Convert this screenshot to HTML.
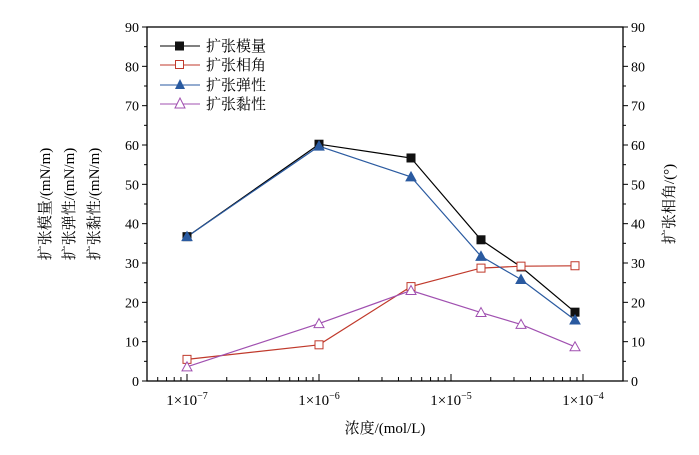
<!DOCTYPE html><html><head><style>body{margin:0;background:#fff}svg{font-family:"Liberation Serif","Noto Serif CJK SC",serif}</style></head><body>
<svg width="699" height="450" viewBox="0 0 699 450" xmlns="http://www.w3.org/2000/svg">
<g stroke="#000" stroke-width="1.3" fill="none">
<rect x="147" y="27" width="476" height="354"/>
</g>
<g id="t" stroke="#000" stroke-width="1"></g>
<g font-size="14" fill="#000" id="lab"></g>
<g fill="#000" font-size="15">
<text x="187" y="405" text-anchor="middle">1×10<tspan dy="-6" font-size="10">−7</tspan></text>
<text x="319" y="405" text-anchor="middle">1×10<tspan dy="-6" font-size="10">−6</tspan></text>
<text x="451" y="405" text-anchor="middle">1×10<tspan dy="-6" font-size="10">−5</tspan></text>
<text x="583" y="405" text-anchor="middle">1×10<tspan dy="-6" font-size="10">−4</tspan></text>
<text x="385" y="433" text-anchor="middle">浓度/(mol/L)</text>
<text transform="translate(50,204) rotate(-90)" text-anchor="middle">扩张模量/(mN/m)</text>
<text transform="translate(74,204) rotate(-90)" text-anchor="middle">扩张弹性/(mN/m)</text>
<text transform="translate(99,204) rotate(-90)" text-anchor="middle">扩张黏性/(mN/m)</text>
<text transform="translate(674,204) rotate(-90)" text-anchor="middle">扩张相角/(°)</text>
</g>
<g stroke-width="1.2" fill="none">
<polyline stroke="#000" points="187,236.7 319,144.2 411,158 481,239.8 521,266.9 575,312.2"/>
<polyline stroke="#c0392b" points="187,359.4 319,344.8 411,286.6 481,268.1 521,266.2 575,265.8"/>
<polyline stroke="#2a5aa0" points="187,236.7 319,146.2 411,176.9 481,256.3 521,279.5 575,320"/>
<polyline stroke="#a050b0" points="187,366.8 319,323.6 411,290.5 481,312.6 521,324.4 575,346.8"/>
</g>
<g id="m"></g>
<g font-size="15" fill="#000">
<line x1="160" y1="46" x2="200" y2="46" stroke="#000"/><rect x="175" y="41.5" width="9" height="9" fill="#111"/><text x="206" y="51">扩张模量</text>
<line x1="160" y1="65" x2="200" y2="65" stroke="#c0392b"/><rect x="175.5" y="60.5" width="8" height="8" fill="#fff" stroke="#c0392b"/><text x="206" y="70">扩张相角</text>
<line x1="160" y1="85" x2="200" y2="85" stroke="#2a5aa0"/><polygon points="180,79 185,89 175,89" fill="#2a5aa0"/><text x="206" y="90">扩张弹性</text>
<line x1="160" y1="104" x2="200" y2="104" stroke="#a050b0"/><polygon points="180,98 185,108 175,108" fill="#fff" stroke="#a050b0"/><text x="206" y="109">扩张黏性</text>
</g>
<script>
var ns="http://www.w3.org/2000/svg",t=document.getElementById('t'),lab=document.getElementById('lab'),m=document.getElementById('m');
function L(a,b,c,d){var e=document.createElementNS(ns,'line');e.setAttribute('x1',a);e.setAttribute('y1',b);e.setAttribute('x2',c);e.setAttribute('y2',d);t.appendChild(e);}
function T(x,y,s,a){var e=document.createElementNS(ns,'text');e.setAttribute('x',x);e.setAttribute('y',y);e.setAttribute('text-anchor',a);e.textContent=s;lab.appendChild(e);}
for(var v=0;v<=90;v+=10){var y=381-v*354/90;L(147,y,142,y);L(623,y,628,y);T(139,y+5,v,'end');T(631,y+5,v,'start');}
for(var v=5;v<90;v+=10){var y=381-v*354/90;L(147,y,144,y);L(623,y,626,y);}
for(var d=-8;d<=-4;d++){for(var k=1;k<10;k++){var x=187+132*(d+7+Math.log10(k));if(x<148||x>622)continue;L(x,381,x,k==1?374:377);}}
var X=[187,319,411,481,521,575];
function mk(vals,type,col,fill){vals.forEach(function(v,i){var x=X[i],y=381-v*354/90,e;
if(type=='s'){e=document.createElementNS(ns,'rect');e.setAttribute('x',x-4);e.setAttribute('y',y-4);e.setAttribute('width',8);e.setAttribute('height',8);}
else{e=document.createElementNS(ns,'polygon');e.setAttribute('points',x+','+(y-5)+' '+(x+5)+','+(y+4)+' '+(x-5)+','+(y+4));}
e.setAttribute('fill',fill);e.setAttribute('stroke',col);m.appendChild(e);});}
mk([36.7,60.2,56.7,35.9,29,17.5],'s','#111','#111');
mk([5.5,9.2,24,28.7,29.2,29.3],'s','#c0392b','#fff');
mk([36.7,59.7,51.9,31.7,25.8,15.5],'t','#2a5aa0','#2a5aa0');
mk([3.6,14.6,23,17.4,14.4,8.7],'t','#a050b0','#fff');
</script>
</svg></body></html>
